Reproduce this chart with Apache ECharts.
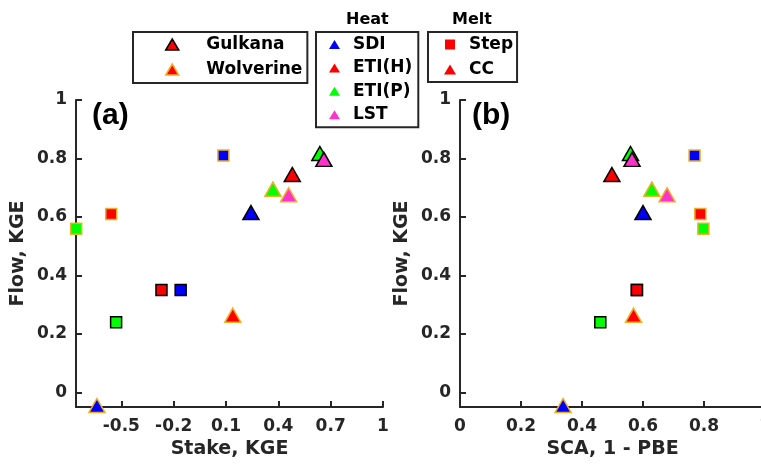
<!DOCTYPE html>
<html>
<head>
<meta charset="utf-8">
<script src="https://cdn.jsdelivr.net/npm/echarts@6/dist/echarts.min.js"></script>
<style>
html, body { margin: 0; padding: 0; background: #fff; }
#chart { width: 761px; height: 464px; }
</style>
</head>
<body>
<div id="chart"></div>
<script>
// model runs: glacier / heat scheme / melt scheme
var runGlacier = ['Gulkana','Gulkana','Gulkana','Gulkana','Gulkana','Gulkana','Gulkana',
                  'Wolverine','Wolverine','Wolverine','Wolverine','Wolverine','Wolverine','Wolverine'];
var runHeat = ['SDI','ETI(H)','ETI(P)','SDI','ETI(H)','ETI(P)','LST',
               'SDI','ETI(H)','ETI(P)','SDI','ETI(H)','ETI(P)','LST'];
var runMelt = ['Step','Step','Step','CC','CC','CC','CC',
               'Step','Step','Step','CC','CC','CC','CC'];

var flowKGE  = [0.35, 0.35, 0.24, 0.615, 0.745, 0.817, 0.797,
                0.81, 0.61, 0.56, -0.045, 0.264, 0.695, 0.676];
var stakeKGE = [-0.16, -0.27, -0.53, 0.243, 0.48, 0.638, 0.661,
                0.085, -0.558, -0.759, -0.64, 0.139, 0.369, 0.459];
var scaSkill = [0.58, 0.58, 0.46, 0.60, 0.498, 0.559, 0.564,
                0.769, 0.788, 0.798, 0.338, 0.569, 0.629, 0.679];

var flowTicks  = [0, 0.2, 0.4, 0.6, 0.8, 1];
var stakeTicks = [-0.5, -0.2, 0.1, 0.4, 0.7, 1];
var scaTicks   = [0, 0.2, 0.4, 0.6, 0.8, 1];

var glacierNames = ['Gulkana', 'Wolverine'];
var heatNames = ['SDI', 'ETI(H)', 'ETI(P)', 'LST'];
var meltNames = ['Step', 'CC'];

var heatColor = {'SDI': '#0000ff', 'ETI(H)': '#ff0000', 'ETI(P)': '#00ff00', 'LST': '#ff33cc'};
var glacierEdge = {'Gulkana': '#000000', 'Wolverine': '#edb120'};

var font = 'DejaVu Sans';
var axisColor = '#262626';

var chart = echarts.init(document.getElementById('chart'));

function points(xs) {
    return xs.map(function (x, i) {
        var tri = runMelt[i] === 'CC';
        return {
            value: [x, flowKGE[i]],
            symbol: tri ? 'triangle' : 'rect',
            symbolSize: tri ? [16, 14] : 11,
            itemStyle: {
                color: heatColor[runHeat[i]],
                borderColor: glacierEdge[runGlacier[i]],
                borderWidth: 1.5,
                opacity: 1
            }
        };
    });
}

function valueAxis(idx, name, min, max, ticks, nameGap, labelMargin) {
    return {
        type: 'value',
        gridIndex: idx,
        min: min,
        max: max,
        name: name,
        nameLocation: 'middle',
        nameGap: nameGap,
        nameTextStyle: {fontFamily: font, fontWeight: 'bold', fontSize: 19, color: axisColor},
        axisLine: {show: true, onZero: false, lineStyle: {color: axisColor, width: 2}},
        axisTick: {show: true, inside: true, length: 6, customValues: ticks,
                   lineStyle: {color: axisColor, width: 2}},
        axisLabel: {customValues: ticks, margin: labelMargin, fontFamily: font,
                    fontWeight: 'bold', fontSize: 17, color: axisColor},
        splitLine: {show: false}
    };
}

// legend icons
var triIcon = 'path://M0,11L6.5,0L13,11Z';
var smallTri = 'path://M0,9L5.5,0L11,9Z';
var smallSq = 'path://M0,0H8V8H0Z';

function legendBox(left, top, itemWidth, itemHeight, gap, pad, items) {
    return {
        orient: 'vertical',
        left: left,
        top: top,
        itemWidth: itemWidth,
        itemHeight: itemHeight,
        itemGap: gap,
        padding: pad,
        borderColor: axisColor,
        borderWidth: 2,
        selectedMode: false,
        textStyle: {fontFamily: font, fontWeight: 'bold', fontSize: 17, color: '#000'},
        data: items
    };
}

var legendSeries = glacierNames.concat(heatNames, meltNames).map(function (n) {
    return {name: n, type: 'scatter', xAxisIndex: 0, yAxisIndex: 0, data: [],
            itemStyle: {opacity: 1}};
});

var option = {
    animation: false,
    title: [
        {text: 'Heat', left: 346, top: 12, padding: 0,
         textStyle: {fontFamily: font, fontWeight: 'bold', fontSize: 16, color: '#000'}},
        {text: 'Melt', left: 452, top: 12, padding: 0,
         textStyle: {fontFamily: font, fontWeight: 'bold', fontSize: 16, color: '#000'}},
        {text: '(a)', left: 92, top: 101, padding: 0,
         textStyle: {fontFamily: 'Liberation Sans', fontWeight: 'bold', fontSize: 30, color: '#000'}},
        {text: '(b)', left: 472, top: 101, padding: 0,
         textStyle: {fontFamily: 'Liberation Sans', fontWeight: 'bold', fontSize: 30, color: '#000'}}
    ],
    legend: [
        legendBox(133, 32, 58, 11, 8, [4, 5, 5, 32], glacierNames.map(function (g) {
            return {name: g, icon: triIcon,
                    itemStyle: {color: '#ff0000', borderColor: glacierEdge[g], borderWidth: 1.5, opacity: 1}};
        })),
        legendBox(316, 32, 27, 9, 6.4, [4, 6, 4, 13], heatNames.map(function (h) {
            return {name: h, icon: smallTri, itemStyle: {color: heatColor[h], borderWidth: 0, opacity: 1}};
        })),
        legendBox(428, 32, 28, 10, 8, [4, 4, 4, 16], [
            {name: 'Step', icon: smallSq, itemStyle: {color: '#ff0000', borderWidth: 0, opacity: 1}},
            {name: 'CC', icon: 'path://M0,10L6,0L12,10Z', itemStyle: {color: '#ff0000', borderWidth: 0, opacity: 1}}
        ])
    ],
    grid: [
        {left: 76, top: 100, width: 307, height: 307, outerBoundsMode: 'none'},
        {left: 460, top: 100, width: 305, height: 307, outerBoundsMode: 'none'}
    ],
    xAxis: [
        valueAxis(0, 'Stake, KGE', -0.76, 1, stakeTicks, 31, 11),
        valueAxis(1, 'SCA, 1 - PBE', 0, 1, scaTicks, 31, 11)
    ],
    yAxis: [
        valueAxis(0, 'Flow, KGE', -0.05, 1, flowTicks, 48, 9),
        valueAxis(1, 'Flow, KGE', -0.05, 1, flowTicks, 48, 9)
    ],
    series: legendSeries.concat([
        {name: 'Stake', type: 'scatter', xAxisIndex: 0, yAxisIndex: 0, clip: false, z: 5,
         data: points(stakeKGE)},
        {name: 'SCA', type: 'scatter', xAxisIndex: 1, yAxisIndex: 1, clip: false, z: 5,
         data: points(scaSkill)}
    ])
};

chart.setOption(option);
</script>
</body>
</html>
